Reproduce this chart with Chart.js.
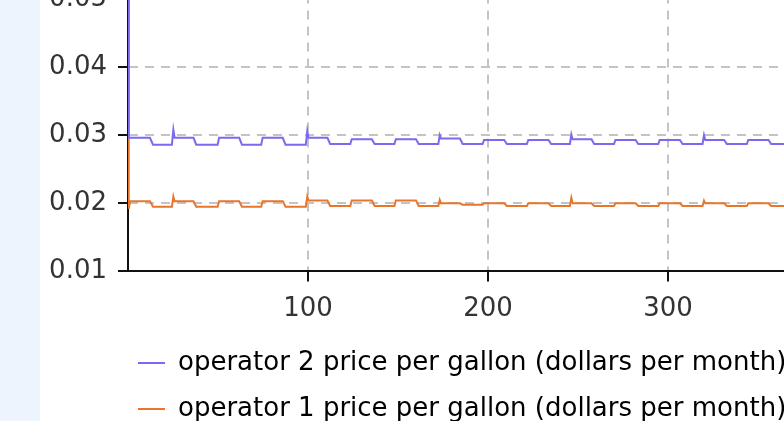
<!DOCTYPE html>
<html lang="en">
<head>
  <meta charset="UTF-8">
  <title>Operator price per gallon</title>
  <script src="https://cdn.jsdelivr.net/npm/chart.js"></script>
  <style>
    html, body { margin: 0; padding: 0; overflow: hidden; background: #fff; width: 784px; height: 421px; }
    #strip { position: absolute; left: 0; top: 0; width: 40px; height: 421px; background: #eef4fd; }
    #chart { position: absolute; left: 40px; top: -96px; }
  </style>
</head>
<body>
  <div id="strip"></div>
  <canvas id="chart" width="860" height="536"></canvas>

  <script>
    // time (months) where the series change direction
    const months = [
      0, 0.4, 1.2, 12.2, 13.9,
      24.4, 25.2, 25.9, 36.4, 37.9,
      49.8, 50.6, 51.3, 61.8, 63.3,
      74.0, 74.8, 75.5, 86.0, 87.5,
      98.8, 99.6, 100.3, 110.8, 112.3,
      123.5, 124.3, 125.0, 135.5, 137.0,
      148.0, 148.8, 149.5, 160.0, 161.5,
      172.4, 173.2, 173.9, 184.4, 185.9,
      197.0, 197.8, 198.5, 209.0, 210.5,
      221.6, 222.4, 223.1, 233.6, 235.1,
      245.5, 246.3, 247.0, 257.5, 259.0,
      270.0, 270.8, 271.5, 282.0, 283.5,
      294.6, 295.4, 296.1, 306.6, 308.1,
      319.2, 320.0, 320.7, 331.2, 332.7,
      343.8, 344.6, 345.3, 355.8, 357.3,
      368.4, 369.2, 369.9, 380.4, 381.9,
      392.9
    ];

    const op2Price = [
      0.09, 0.0296, 0.0296, 0.0296, 0.0286,
      0.0286, 0.0308, 0.0296, 0.0296, 0.0286,
      0.0286, 0.0296, 0.0296, 0.0296, 0.0286,
      0.0286, 0.0296, 0.0296, 0.0296, 0.0286,
      0.0286, 0.0306, 0.0296, 0.0296, 0.0287,
      0.0287, 0.0294, 0.0294, 0.0294, 0.0287,
      0.0287, 0.0294, 0.0294, 0.0294, 0.0287,
      0.0287, 0.0300, 0.0295, 0.0295, 0.0287,
      0.0287, 0.0293, 0.0293, 0.0293, 0.0287,
      0.0287, 0.0293, 0.0293, 0.0293, 0.0287,
      0.0287, 0.0301, 0.0294, 0.0294, 0.0287,
      0.0287, 0.0293, 0.0293, 0.0293, 0.0287,
      0.0287, 0.0293, 0.0293, 0.0293, 0.0287,
      0.0287, 0.0300, 0.0293, 0.0293, 0.0287,
      0.0287, 0.0293, 0.0293, 0.0293, 0.0287,
      0.0287, 0.0293, 0.0293, 0.0293, 0.0287,
      0.0287
    ];

    const op1Price = [
      0.09, 0.0192, 0.0203, 0.0203, 0.0195,
      0.0195, 0.0210, 0.0203, 0.0203, 0.0195,
      0.0195, 0.0203, 0.0203, 0.0203, 0.0195,
      0.0195, 0.0203, 0.0203, 0.0203, 0.0195,
      0.0195, 0.0210, 0.0204, 0.0204, 0.0196,
      0.0196, 0.0204, 0.0204, 0.0204, 0.0196,
      0.0196, 0.0204, 0.0204, 0.0204, 0.0196,
      0.0196, 0.0205, 0.0200, 0.0200, 0.0198,
      0.0198, 0.0200, 0.0200, 0.0200, 0.0196,
      0.0196, 0.0200, 0.0200, 0.0200, 0.0196,
      0.0196, 0.0208, 0.0200, 0.0200, 0.0196,
      0.0196, 0.0200, 0.0200, 0.0200, 0.0196,
      0.0196, 0.0200, 0.0200, 0.0200, 0.0196,
      0.0196, 0.0204, 0.0200, 0.0200, 0.0196,
      0.0196, 0.0200, 0.0200, 0.0200, 0.0196,
      0.0196, 0.0200, 0.0200, 0.0200, 0.0196,
      0.0196
    ];

    const xTicks = [100, 200, 300, 400];
    const yTicks = [0.01, 0.02, 0.03, 0.04, 0.05, 0.06];

    const seriesNames = [
      'operator 2 price per gallon (dollars per month)',
      'operator 1 price per gallon (dollars per month)'
    ];
    const seriesColors = ['#7a6af0', '#e8762c'];

    const font = { family: 'DejaVu Sans', size: 26 };
    const gridDash = [9, 7];

    // legend padding is 20 (row spacing) but the rows sit closer to the axis
    const legendShift = {
      id: 'legendShift',
      afterUpdate(chart) {
        const lg = chart.legend;
        lg.left -= 10;
        lg.right -= 10;
        lg.top -= 8;
        lg.bottom -= 8;
      }
    };

    const ctx = document.getElementById('chart').getContext('2d');
    new Chart(ctx, {
      type: 'line',
      data: {
        datasets: [
          {
            label: seriesNames[0],
            data: months.map((m, i) => ({ x: m, y: op2Price[i] })),
            borderColor: seriesColors[0],
            backgroundColor: seriesColors[0],
            borderWidth: 2,
            pointRadius: 0,
            tension: 0
          },
          {
            label: seriesNames[1],
            data: months.map((m, i) => ({ x: m, y: op1Price[i] })),
            borderColor: seriesColors[1],
            backgroundColor: seriesColors[1],
            borderWidth: 2,
            pointRadius: 0,
            tension: 0
          }
        ]
      },
      options: {
        responsive: false,
        animation: false,
        layout: { padding: { top: 20, right: 52, bottom: 0, left: 0 } },
        scales: {
          x: {
            type: 'linear',
            min: 0,
            max: 400,
            afterBuildTicks: axis => { axis.ticks = xTicks.map(v => ({ value: v })); },
            ticks: {
              color: '#333',
              font: { family: font.family, size: font.size, lineHeight: 0.827 },
              padding: 17.5,
              maxRotation: 0,
              callback: v => String(v)
            },
            grid: { color: '#c4c4c4', lineWidth: 2, tickLength: 10, tickColor: '#111', tickWidth: 2 },
            border: { color: '#111', width: 2, dash: gridDash }
          },
          y: {
            min: 0.01,
            max: 0.06,
            afterBuildTicks: axis => { axis.ticks = yTicks.map(v => ({ value: v })); },
            afterFit: axis => { axis.width = 88; },
            ticks: {
              color: '#333',
              font: font,
              padding: 11,
              callback: v => v.toFixed(2)
            },
            grid: { color: '#c4c4c4', lineWidth: 2, tickLength: 10, tickColor: '#111', tickWidth: 2 },
            border: { color: '#111', width: 2, dash: gridDash }
          }
        },
        plugins: {
          tooltip: { enabled: false },
          legend: {
            position: 'bottom',
            align: 'start',
            fullSize: false,
            labels: {
              color: '#222',
              font: font,
              boxWidth: 27,
              boxHeight: 2,
              padding: 20,
              generateLabels: chart => chart.data.datasets.map((ds, i) => ({
                text: ds.label,
                fillStyle: ds.borderColor,
                strokeStyle: ds.borderColor,
                lineWidth: 0,
                hidden: false,
                datasetIndex: i
              }))
            }
          }
        }
      },
      plugins: [legendShift]
    });
  </script>
</body>
</html>
